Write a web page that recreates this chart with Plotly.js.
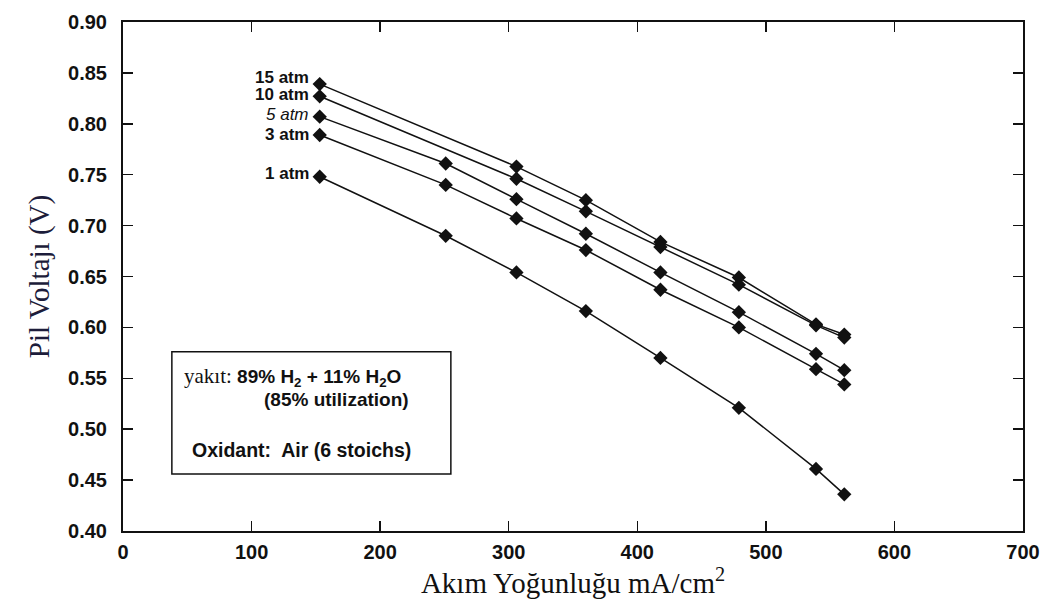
<!DOCTYPE html>
<html>
<head>
<meta charset="utf-8">
<script src="https://cdn.plot.ly/plotly-3.0.1.min.js"></script>
<style>html,body{margin:0;padding:0;background:#fff;}#chart{width:1061px;height:616px;}</style>
</head>
<body>
<div id="chart"></div>
<script>
// Data
const seriesNames = ["15 atm", "10 atm", "5 atm", "3 atm", "1 atm"];
const x15 = [153, 306, 360, 418, 479, 539, 561];
const y15 = [0.839, 0.758, 0.725, 0.684, 0.649, 0.603, 0.593];
const x10 = [153, 306, 360, 418, 479, 539, 561];
const y10 = [0.827, 0.746, 0.714, 0.679, 0.642, 0.602, 0.590];
const x5 = [153, 251, 306, 360, 418, 479, 539, 561];
const y5 = [0.807, 0.761, 0.726, 0.692, 0.654, 0.615, 0.574, 0.558];
const x3 = [153, 251, 306, 360, 418, 479, 539, 561];
const y3 = [0.789, 0.740, 0.707, 0.676, 0.637, 0.600, 0.559, 0.544];
const x1 = [153, 251, 306, 360, 418, 479, 539, 561];
const y1 = [0.748, 0.690, 0.654, 0.616, 0.570, 0.521, 0.461, 0.436];
const xTickVals = [0, 100, 200, 300, 400, 500, 600, 700];
const yTickVals = [0.40, 0.45, 0.50, 0.55, 0.60, 0.65, 0.70, 0.75, 0.80, 0.85, 0.90];

const xs = [x15, x10, x5, x3, x1];
const ys = [y15, y10, y5, y3, y1];

const traces = xs.map((xv, i) => ({
  x: xv, y: ys[i], name: seriesNames[i], type: "scatter", mode: "lines+markers",
  line: {color: "#111", width: 1.5},
  marker: {symbol: "diamond", size: 11, color: "#111"},
  showlegend: false
}));

const labelYShift = [7, 2, 2, 1, 3];
const sans = "Liberation Sans, Arial, sans-serif";
const serif = "Liberation Serif, Times New Roman, serif";

const annotations = seriesNames.map((n, i) => ({
  x: xs[i][0], y: ys[i][0], xref: "x", yref: "y",
  xanchor: "right", yanchor: "middle", xshift: -9, yshift: labelYShift[i],
  text: i === 2 ? "<i>" + n + "</i>" : "<b>" + n + "</b>",
  showarrow: false,
  font: {family: sans, size: 17, color: "#111"}
}));

annotations.push(
  {x: 46, y: 0.551, xref: "x", yref: "y", xanchor: "left", yanchor: "middle", showarrow: false,
   text: "<span style='font-family:Liberation Serif;font-size:21px'>yakıt: </span><b>89% H<sub>2</sub> + 11% H<sub>2</sub>O</b>",
   font: {family: sans, size: 19, color: "#111"}},
  {x: 166, y: 0.529, xref: "x", yref: "y", xanchor: "center", yanchor: "middle", showarrow: false,
   text: "<b>(85% utilization)</b>",
   font: {family: sans, size: 19, color: "#111"}},
  {x: 52, y: 0.480, xref: "x", yref: "y", xanchor: "left", yanchor: "middle", showarrow: false,
   text: "<b>Oxidant:  Air (6 stoichs)</b>",
   font: {family: sans, size: 19.5, color: "#111"}}
);

const layout = {
  width: 1061, height: 616,
  margin: {l: 123, r: 38, t: 22, b: 85},
  paper_bgcolor: "#fff", plot_bgcolor: "#fff",
  xaxis: {
    range: [0, 700], tickvals: xTickVals, ticks: "inside", ticklen: 10, tickwidth: 1.5,
    tickcolor: "#111", showline: true, linecolor: "#111", linewidth: 2, mirror: "ticks",
    showgrid: false, zeroline: false, ticklabelstandoff: 2,
    tickfont: {family: sans, size: 20, color: "#111", weight: "bold"},
    title: {text: "Akım Yoğunluğu mA/cm<sup>2</sup>", font: {family: serif, size: 29, color: "#111"}, standoff: 8}
  },
  yaxis: {
    range: [0.40, 0.90], tickvals: yTickVals, tickformat: ".2f", ticks: "inside", ticklen: 10, tickwidth: 1.5,
    tickcolor: "#111", showline: true, linecolor: "#111", linewidth: 2, mirror: "ticks",
    showgrid: false, zeroline: false, ticklabelstandoff: 10,
    tickfont: {family: sans, size: 20, color: "#111", weight: "bold"},
    title: {text: "Pil Voltajı (V)", font: {family: serif, size: 29, color: "#1c1c3a"}, standoff: 10}
  },
  shapes: [{
    type: "rect", xref: "x", yref: "y", x0: 38, x1: 255, y0: 0.456, y1: 0.576,
    line: {color: "#111", width: 1.5}, fillcolor: "rgba(0,0,0,0)"
  }],
  annotations: annotations
};

Plotly.newPlot("chart", traces, layout, {displayModeBar: false, staticPlot: true});
</script>
</body>
</html>
